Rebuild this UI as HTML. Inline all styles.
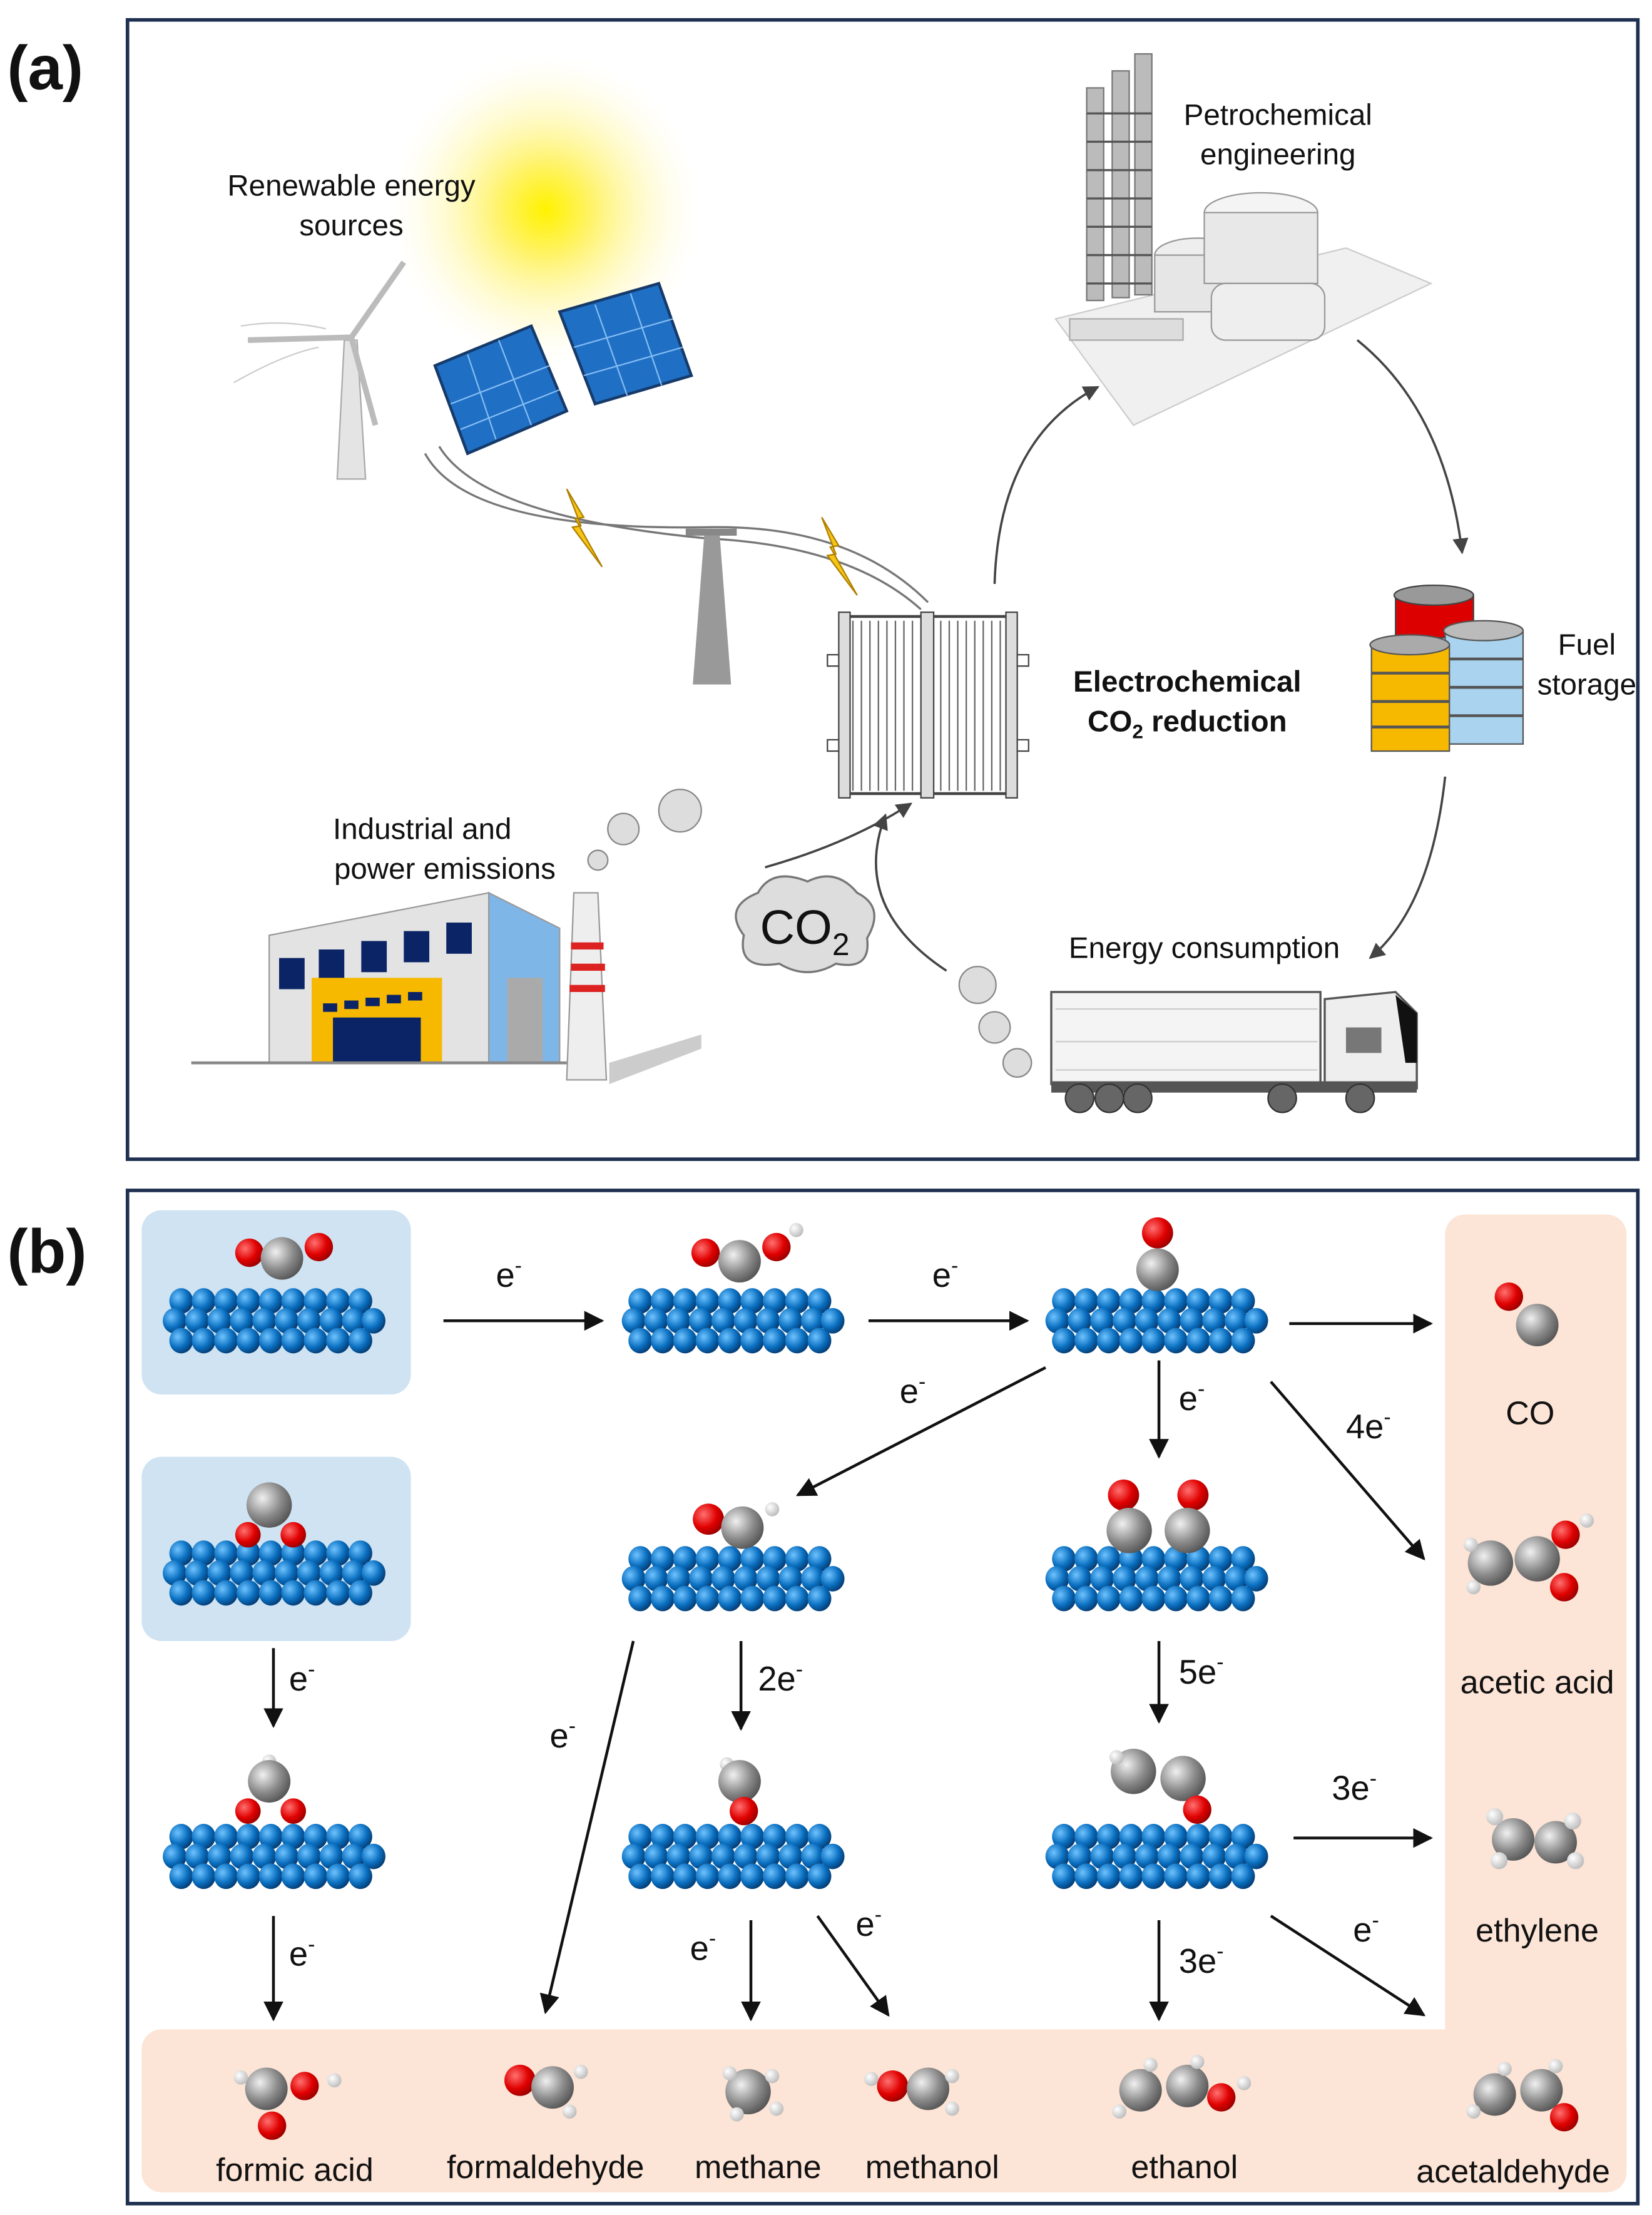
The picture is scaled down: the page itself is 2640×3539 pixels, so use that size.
<!DOCTYPE html>
<html><head><meta charset="utf-8"><style>
html,body{margin:0;padding:0;background:#fff}
svg{display:block}
text{font-family:"Liberation Sans",Arial,sans-serif;fill:#111}
</style></head><body>
<svg width="2640" height="3539" viewBox="0 0 1166 1563" xmlns="http://www.w3.org/2000/svg">
<defs>
<marker id="ah" viewBox="0 0 10 10" refX="9" refY="5" markerWidth="7" markerHeight="7" orient="auto-start-reverse"><path d="M0,0 L10,5 L0,10 z" fill="#111"/></marker>
<marker id="ag" viewBox="0 0 10 10" refX="9" refY="5" markerWidth="7" markerHeight="7" orient="auto"><path d="M0,0 L10,5 L0,10 z" fill="#444"/></marker>
<radialGradient id="sun"><stop offset="0" stop-color="#fff200"/><stop offset="0.3" stop-color="#fff36a"/><stop offset="1" stop-color="#fffbe0" stop-opacity="0"/></radialGradient>
<radialGradient id="bl" cx="0.35" cy="0.35" r="0.7"><stop offset="0" stop-color="#6fc3ff"/><stop offset="0.6" stop-color="#0a6fc0"/><stop offset="1" stop-color="#053a70"/></radialGradient>
<radialGradient id="gr" cx="0.35" cy="0.35" r="0.7"><stop offset="0" stop-color="#f0f0f0"/><stop offset="0.6" stop-color="#8a8a8a"/><stop offset="1" stop-color="#555"/></radialGradient>
<radialGradient id="rd" cx="0.35" cy="0.35" r="0.7"><stop offset="0" stop-color="#ff7070"/><stop offset="0.6" stop-color="#e00000"/><stop offset="1" stop-color="#900"/></radialGradient>
<radialGradient id="wh" cx="0.35" cy="0.35" r="0.7"><stop offset="0" stop-color="#fff"/><stop offset="1" stop-color="#bbb"/></radialGradient>
<g id="lat"><g transform="scale(0.93,1)">
 <g fill="url(#bl)">
 <circle cx="-70" cy="-12" r="9"/><circle cx="-53" cy="-12" r="9"/><circle cx="-36" cy="-12" r="9"/><circle cx="-19" cy="-12" r="9"/><circle cx="-2" cy="-12" r="9"/><circle cx="15" cy="-12" r="9"/><circle cx="32" cy="-12" r="9"/><circle cx="49" cy="-12" r="9"/><circle cx="66" cy="-12" r="9"/>
 <circle cx="-75" cy="2" r="9"/><circle cx="-58" cy="2" r="9"/><circle cx="-41" cy="2" r="9"/><circle cx="-24" cy="2" r="9"/><circle cx="-7" cy="2" r="9"/><circle cx="10" cy="2" r="9"/><circle cx="27" cy="2" r="9"/><circle cx="44" cy="2" r="9"/><circle cx="61" cy="2" r="9"/><circle cx="76" cy="2" r="9"/>
 <circle cx="-70" cy="16" r="9"/><circle cx="-53" cy="16" r="9"/><circle cx="-36" cy="16" r="9"/><circle cx="-19" cy="16" r="9"/><circle cx="-2" cy="16" r="9"/><circle cx="15" cy="16" r="9"/><circle cx="32" cy="16" r="9"/><circle cx="49" cy="16" r="9"/><circle cx="66" cy="16" r="9"/>
 </g>
</g></g>
</defs>

<text x="5" y="63" font-size="44" font-weight="bold">(a)</text>
<text x="5" y="898" font-size="44" font-weight="bold">(b)</text>

<rect x="90" y="14" width="1066" height="804" fill="#fff" stroke="#1f3050" stroke-width="2.5"/>
<circle cx="385" cy="148" r="110" fill="url(#sun)"/>
<text x="248" y="138" font-size="21" text-anchor="middle">Renewable energy</text>
<text x="248" y="166" font-size="21" text-anchor="middle">sources</text>
<polygon points="243,240 252,240 258,338 238,338" fill="#e4e4e4" stroke="#aaa"/>
<line x1="248" y1="238" x2="285" y2="185" stroke="#bbb" stroke-width="4"/>
<line x1="248" y1="238" x2="175" y2="240" stroke="#bbb" stroke-width="4"/>
<line x1="248" y1="238" x2="265" y2="300" stroke="#bbb" stroke-width="4"/>
<path d="M165,270 Q200,250 225,245 M170,230 Q200,225 230,232" stroke="#ccc" fill="none"/>
<polygon points="307,258 375,230 400,290 330,320" fill="#1f6fc4" stroke="#163a6a" stroke-width="2"/>
<polygon points="395,220 465,200 488,265 420,285" fill="#1f6fc4" stroke="#163a6a" stroke-width="2"/>
<g stroke="#9cd0ff" stroke-width="1" opacity="0.8">
<line x1="318" y1="285" x2="388" y2="258"/><line x1="325" y1="303" x2="395" y2="275"/><line x1="330" y1="250" x2="350" y2="310"/><line x1="352" y1="240" x2="375" y2="300"/>
<line x1="405" y1="245" x2="475" y2="225"/><line x1="412" y1="265" x2="482" y2="245"/><line x1="420" y1="215" x2="443" y2="280"/><line x1="445" y1="207" x2="467" y2="272"/>
</g>
<path d="M300,320 Q330,375 500,372 Q600,370 655,425" stroke="#777" fill="none" stroke-width="1.5"/>
<path d="M310,315 Q340,365 500,380 Q600,385 650,430" stroke="#777" fill="none" stroke-width="1.5"/>
<polygon points="497,378 508,378 516,483 489,483" fill="#999"/>
<rect x="484" y="373" width="36" height="5" fill="#888"/>
<polygon points="400,345 412,365 406,366 425,400 404,372 410,371" fill="#f5c518" stroke="#b08000"/>
<polygon points="580,365 592,385 586,386 605,420 584,392 590,391" fill="#f5c518" stroke="#b08000"/>
<rect x="595" y="435" width="120" height="125" fill="#fff" stroke="#444" stroke-width="2"/>
<g stroke="#666" stroke-width="1">
<line x1="602" y1="438" x2="602" y2="558"/><line x1="608" y1="438" x2="608" y2="558"/><line x1="614" y1="438" x2="614" y2="558"/><line x1="620" y1="438" x2="620" y2="558"/><line x1="626" y1="438" x2="626" y2="558"/><line x1="632" y1="438" x2="632" y2="558"/><line x1="638" y1="438" x2="638" y2="558"/><line x1="644" y1="438" x2="644" y2="558"/>
<line x1="664" y1="438" x2="664" y2="558"/><line x1="670" y1="438" x2="670" y2="558"/><line x1="676" y1="438" x2="676" y2="558"/><line x1="682" y1="438" x2="682" y2="558"/><line x1="688" y1="438" x2="688" y2="558"/><line x1="694" y1="438" x2="694" y2="558"/><line x1="700" y1="438" x2="700" y2="558"/><line x1="706" y1="438" x2="706" y2="558"/>
</g>
<rect x="650" y="432" width="9" height="131" fill="#ddd" stroke="#444"/>
<rect x="592" y="432" width="8" height="131" fill="#ddd" stroke="#444"/>
<rect x="710" y="432" width="8" height="131" fill="#ddd" stroke="#444"/>
<rect x="584" y="462" width="8" height="8" fill="#fff" stroke="#444"/><rect x="584" y="522" width="8" height="8" fill="#fff" stroke="#444"/>
<rect x="718" y="462" width="8" height="8" fill="#fff" stroke="#444"/><rect x="718" y="522" width="8" height="8" fill="#fff" stroke="#444"/>
<text x="838" y="488" font-size="21" font-weight="bold" text-anchor="middle">Electrochemical</text>
<text x="838" y="516" font-size="21" font-weight="bold" text-anchor="middle">CO<tspan font-size="14" dy="5">2</tspan><tspan dy="-5"> reduction</tspan></text>
<polygon points="745,225 950,175 1010,200 800,300" fill="#f0f0f0" stroke="#ccc"/>
<g fill="#bbb" stroke="#777">
<rect x="767" y="62" width="12" height="150"/><rect x="785" y="50" width="12" height="160"/><rect x="801" y="38" width="12" height="170"/>
</g>
<g stroke="#555" stroke-width="1.5"><line x1="767" y1="80" x2="813" y2="80"/><line x1="767" y1="100" x2="813" y2="100"/><line x1="767" y1="120" x2="813" y2="120"/><line x1="767" y1="140" x2="813" y2="140"/><line x1="767" y1="160" x2="813" y2="160"/><line x1="767" y1="180" x2="813" y2="180"/><line x1="767" y1="200" x2="813" y2="200"/></g>
<ellipse cx="845" cy="180" rx="30" ry="12" fill="#eee" stroke="#999"/><rect x="815" y="180" width="60" height="40" fill="#e6e6e6" stroke="#999"/>
<ellipse cx="890" cy="150" rx="40" ry="14" fill="#f4f4f4" stroke="#999"/><rect x="850" y="150" width="80" height="50" fill="#e8e8e8" stroke="#999"/>
<rect x="855" y="200" width="80" height="40" rx="10" fill="#eee" stroke="#999"/>
<rect x="755" y="225" width="80" height="15" fill="#ddd" stroke="#aaa"/>
<text x="902" y="88" font-size="21" text-anchor="middle">Petrochemical</text>
<text x="902" y="116" font-size="21" text-anchor="middle">engineering</text>
<rect x="985" y="420" width="55" height="30" fill="#d00" stroke="#444"/><ellipse cx="1012" cy="420" rx="28" ry="7" fill="#999" stroke="#444"/>
<rect x="1020" y="445" width="55" height="80" fill="#a9d3ee" stroke="#555"/><ellipse cx="1047" cy="445" rx="28" ry="7" fill="#bbb" stroke="#555"/>
<rect x="968" y="455" width="55" height="75" fill="#f7b800" stroke="#555"/><ellipse cx="995" cy="455" rx="28" ry="7" fill="#aaa" stroke="#555"/>
<g stroke="#555" stroke-width="2"><line x1="968" y1="475" x2="1023" y2="475"/><line x1="968" y1="495" x2="1023" y2="495"/><line x1="968" y1="513" x2="1023" y2="513"/><line x1="1023" y1="465" x2="1075" y2="465"/><line x1="1023" y1="485" x2="1075" y2="485"/><line x1="1023" y1="505" x2="1075" y2="505"/></g>
<text x="1120" y="462" font-size="21" text-anchor="middle">Fuel</text>
<text x="1120" y="490" font-size="21" text-anchor="middle">storage</text>
<polygon points="190,660 345,630 345,750 190,750" fill="#e3e3e3" stroke="#999"/>
<polygon points="345,630 395,655 395,750 345,750" fill="#7fb6e8" stroke="#999"/>
<g fill="#0b2466"><rect x="197" y="676" width="18" height="22"/><rect x="225" y="670" width="18" height="22"/><rect x="255" y="664" width="18" height="22"/><rect x="285" y="657" width="18" height="22"/><rect x="315" y="651" width="18" height="22"/></g>
<rect x="220" y="690" width="92" height="60" fill="#f7b800"/><rect x="235" y="718" width="62" height="32" fill="#0b2466"/>
<g fill="#0b2466"><rect x="228" y="708" width="10" height="6"/><rect x="243" y="706" width="10" height="6"/><rect x="258" y="704" width="10" height="6"/><rect x="273" y="702" width="10" height="6"/><rect x="288" y="700" width="10" height="6"/></g>
<rect x="358" y="690" width="25" height="60" fill="#aaa"/>
<line x1="135" y1="750" x2="400" y2="750" stroke="#888" stroke-width="2"/>
<polygon points="430,750 495,730 495,740 430,765" fill="#ccc"/>
<polygon points="405,630 422,630 428,762 400,762" fill="#eee" stroke="#999"/>
<rect x="403" y="665" width="23" height="5" fill="#d22"/><rect x="403" y="680" width="24" height="5" fill="#d22"/><rect x="402" y="695" width="25" height="5" fill="#d22"/>
<g fill="#ddd" stroke="#888"><circle cx="422" cy="607" r="7"/><circle cx="440" cy="585" r="11"/><circle cx="480" cy="572" r="15"/></g>
<text x="298" y="592" font-size="21" text-anchor="middle">Industrial and</text>
<text x="314" y="620" font-size="21" text-anchor="middle">power emissions</text>
<path d="M525,660 Q510,640 535,630 Q545,612 570,622 Q590,612 605,630 Q625,640 612,662 Q615,685 590,680 Q570,692 550,680 Q520,685 525,660 z" fill="#ddd" stroke="#777" stroke-width="1.5"/>
<text x="568" y="666" font-size="34" text-anchor="middle">CO<tspan font-size="22" dy="8">2</tspan></text>
<g fill="#ddd" stroke="#888"><circle cx="690" cy="695" r="13"/><circle cx="702" cy="725" r="11"/><circle cx="718" cy="750" r="10"/></g>
<rect x="742" y="700" width="190" height="65" fill="#f4f4f4" stroke="#555" stroke-width="1.5"/>
<g stroke="#ccc"><line x1="745" y1="712" x2="930" y2="712"/><line x1="745" y1="735" x2="930" y2="735"/><line x1="745" y1="755" x2="930" y2="755"/></g>
<path d="M935,705 L985,700 L1000,715 L1000,768 L935,768 z" fill="#eee" stroke="#555" stroke-width="1.5"/>
<path d="M985,702 L1000,715 L1000,750 L992,750 z" fill="#111"/>
<rect x="950" y="725" width="25" height="18" fill="#777"/>
<rect x="742" y="763" width="258" height="8" fill="#555"/>
<g fill="#666" stroke="#333"><circle cx="762" cy="775" r="10"/><circle cx="783" cy="775" r="10"/><circle cx="803" cy="775" r="10"/><circle cx="905" cy="775" r="10"/><circle cx="960" cy="775" r="10"/></g>
<text x="850" y="676" font-size="21" text-anchor="middle">Energy consumption</text>
<g stroke="#444" stroke-width="1.6" fill="none" marker-end="url(#ag)">
<path d="M702,412 Q705,310 775,273"/>
<path d="M958,240 Q1020,290 1032,390"/>
<path d="M1020,548 Q1010,640 967,676"/>
<path d="M540,612 Q600,595 643,567"/>
<path d="M668,685 Q600,640 625,575"/>
</g>

<rect x="90" y="840" width="1066" height="715" fill="#fff" stroke="#1f3050" stroke-width="2.5"/>
<rect x="1020" y="857" width="128" height="690" rx="14" fill="#fce4d6"/>
<rect x="100" y="1432" width="1048" height="115" rx="14" fill="#fce4d6"/>
<rect x="100" y="854" width="190" height="130" rx="14" fill="#cfe3f3"/>
<rect x="100" y="1028" width="190" height="130" rx="14" fill="#cfe3f3"/>

<use href="#lat" x="193" y="930"/><use href="#lat" x="517" y="930"/><use href="#lat" x="816" y="930"/>
<use href="#lat" x="193" y="1108"/><use href="#lat" x="517" y="1112"/><use href="#lat" x="816" y="1112"/>
<use href="#lat" x="193" y="1308"/><use href="#lat" x="517" y="1308"/><use href="#lat" x="816" y="1308"/>

<circle cx="176" cy="884" r="10" fill="url(#rd)"/><circle cx="225" cy="880" r="10" fill="url(#rd)"/><circle cx="199" cy="888" r="15" fill="url(#gr)"/>
<circle cx="498" cy="884" r="10" fill="url(#rd)"/><circle cx="562" cy="868" r="5" fill="url(#wh)"/><circle cx="548" cy="880" r="10" fill="url(#rd)"/><circle cx="522" cy="890" r="15" fill="url(#gr)"/>
<circle cx="817" cy="870" r="11" fill="url(#rd)"/><circle cx="817" cy="896" r="15" fill="url(#gr)"/>
<circle cx="1065" cy="915" r="10" fill="url(#rd)"/><circle cx="1085" cy="935" r="15" fill="url(#gr)"/>
<circle cx="190" cy="1062" r="16" fill="url(#gr)"/><circle cx="175" cy="1083" r="9" fill="url(#rd)"/><circle cx="207" cy="1083" r="9" fill="url(#rd)"/>
<circle cx="500" cy="1072" r="11" fill="url(#rd)"/><circle cx="545" cy="1065" r="5" fill="url(#wh)"/><circle cx="524" cy="1078" r="15" fill="url(#gr)"/>
<circle cx="793" cy="1055" r="11" fill="url(#rd)"/><circle cx="842" cy="1055" r="11" fill="url(#rd)"/><circle cx="797" cy="1080" r="16" fill="url(#gr)"/><circle cx="838" cy="1080" r="16" fill="url(#gr)"/>
<circle cx="1052" cy="1103" r="16" fill="url(#gr)"/><circle cx="1085" cy="1100" r="16" fill="url(#gr)"/><circle cx="1105" cy="1083" r="10" fill="url(#rd)"/><circle cx="1104" cy="1120" r="10" fill="url(#rd)"/><circle cx="1120" cy="1073" r="5" fill="url(#wh)"/><circle cx="1040" cy="1120" r="5" fill="url(#wh)"/><circle cx="1038" cy="1090" r="5" fill="url(#wh)"/>
<circle cx="190" cy="1243" r="5" fill="url(#wh)"/><circle cx="190" cy="1257" r="15" fill="url(#gr)"/><circle cx="175" cy="1278" r="9" fill="url(#rd)"/><circle cx="207" cy="1278" r="9" fill="url(#rd)"/>
<circle cx="513" cy="1245" r="5" fill="url(#wh)"/><circle cx="522" cy="1257" r="15" fill="url(#gr)"/><circle cx="525" cy="1278" r="10" fill="url(#rd)"/>
<circle cx="800" cy="1250" r="16" fill="url(#gr)"/><circle cx="835" cy="1255" r="16" fill="url(#gr)"/><circle cx="845" cy="1277" r="10" fill="url(#rd)"/><circle cx="788" cy="1240" r="5" fill="url(#wh)"/>
<circle cx="1068" cy="1298" r="15" fill="url(#gr)"/><circle cx="1098" cy="1300" r="15" fill="url(#gr)"/><circle cx="1055" cy="1282" r="6" fill="url(#wh)"/><circle cx="1058" cy="1313" r="6" fill="url(#wh)"/><circle cx="1110" cy="1285" r="6" fill="url(#wh)"/><circle cx="1112" cy="1313" r="6" fill="url(#wh)"/>
<circle cx="188" cy="1474" r="15" fill="url(#gr)"/><circle cx="215" cy="1472" r="10" fill="url(#rd)"/><circle cx="236" cy="1468" r="5" fill="url(#wh)"/><circle cx="192" cy="1500" r="10" fill="url(#rd)"/><circle cx="170" cy="1466" r="5" fill="url(#wh)"/>
<circle cx="367" cy="1468" r="11" fill="url(#rd)"/><circle cx="390" cy="1473" r="15" fill="url(#gr)"/><circle cx="410" cy="1462" r="5" fill="url(#wh)"/><circle cx="402" cy="1490" r="5" fill="url(#wh)"/>
<circle cx="528" cy="1476" r="16" fill="url(#gr)"/><circle cx="515" cy="1463" r="5" fill="url(#wh)"/><circle cx="545" cy="1465" r="5" fill="url(#wh)"/><circle cx="520" cy="1492" r="5" fill="url(#wh)"/><circle cx="548" cy="1488" r="5" fill="url(#wh)"/>
<circle cx="630" cy="1472" r="11" fill="url(#rd)"/><circle cx="655" cy="1474" r="15" fill="url(#gr)"/><circle cx="615" cy="1467" r="5" fill="url(#wh)"/><circle cx="672" cy="1465" r="5" fill="url(#wh)"/><circle cx="672" cy="1488" r="5" fill="url(#wh)"/>
<circle cx="805" cy="1475" r="15" fill="url(#gr)"/><circle cx="838" cy="1472" r="15" fill="url(#gr)"/><circle cx="862" cy="1480" r="10" fill="url(#rd)"/><circle cx="790" cy="1490" r="5" fill="url(#wh)"/><circle cx="812" cy="1457" r="5" fill="url(#wh)"/><circle cx="845" cy="1455" r="5" fill="url(#wh)"/><circle cx="878" cy="1470" r="5" fill="url(#wh)"/>
<circle cx="1055" cy="1478" r="15" fill="url(#gr)"/><circle cx="1088" cy="1475" r="15" fill="url(#gr)"/><circle cx="1104" cy="1494" r="10" fill="url(#rd)"/><circle cx="1040" cy="1490" r="5" fill="url(#wh)"/><circle cx="1062" cy="1460" r="5" fill="url(#wh)"/><circle cx="1098" cy="1458" r="5" fill="url(#wh)"/>

<g stroke="#111" stroke-width="2" marker-end="url(#ah)">
<line x1="313" y1="932" x2="425" y2="932"/>
<line x1="613" y1="932" x2="725" y2="932"/>
<line x1="910" y1="934" x2="1010" y2="934"/>
<line x1="738" y1="965" x2="563" y2="1055"/>
<line x1="818" y1="960" x2="818" y2="1028"/>
<line x1="897" y1="975" x2="1005" y2="1100"/>
<line x1="193" y1="1163" x2="193" y2="1218"/>
<line x1="193" y1="1352" x2="193" y2="1425"/>
<line x1="447" y1="1158" x2="385" y2="1420"/>
<line x1="523" y1="1158" x2="523" y2="1220"/>
<line x1="818" y1="1158" x2="818" y2="1215"/>
<line x1="913" y1="1297" x2="1010" y2="1297"/>
<line x1="530" y1="1355" x2="530" y2="1425"/>
<line x1="577" y1="1352" x2="627" y2="1422"/>
<line x1="818" y1="1355" x2="818" y2="1425"/>
<line x1="897" y1="1352" x2="1005" y2="1422"/>
</g>
<g font-size="24">
<text x="350" y="908">e<tspan font-size="15" dy="-10">-</tspan></text>
<text x="658" y="908">e<tspan font-size="15" dy="-10">-</tspan></text>
<text x="635" y="990">e<tspan font-size="15" dy="-10">-</tspan></text>
<text x="832" y="995">e<tspan font-size="15" dy="-10">-</tspan></text>
<text x="950" y="1015">4e<tspan font-size="15" dy="-10">-</tspan></text>
<text x="204" y="1193">e<tspan font-size="15" dy="-10">-</tspan></text>
<text x="204" y="1387">e<tspan font-size="15" dy="-10">-</tspan></text>
<text x="388" y="1233">e<tspan font-size="15" dy="-10">-</tspan></text>
<text x="535" y="1193">2e<tspan font-size="15" dy="-10">-</tspan></text>
<text x="832" y="1188">5e<tspan font-size="15" dy="-10">-</tspan></text>
<text x="940" y="1270">3e<tspan font-size="15" dy="-10">-</tspan></text>
<text x="487" y="1383">e<tspan font-size="15" dy="-10">-</tspan></text>
<text x="604" y="1366">e<tspan font-size="15" dy="-10">-</tspan></text>
<text x="832" y="1392">3e<tspan font-size="15" dy="-10">-</tspan></text>
<text x="955" y="1370">e<tspan font-size="15" dy="-10">-</tspan></text>
</g>
<g font-size="23" text-anchor="middle">
<text x="1080" y="1005">CO</text>
<text x="1085" y="1195">acetic acid</text>
<text x="1085" y="1370">ethylene</text>
<text x="208" y="1539">formic acid</text>
<text x="385" y="1537">formaldehyde</text>
<text x="535" y="1537">methane</text>
<text x="658" y="1537">methanol</text>
<text x="836" y="1537">ethanol</text>
<text x="1068" y="1540">acetaldehyde</text>
</g>
</svg>
</body></html>
